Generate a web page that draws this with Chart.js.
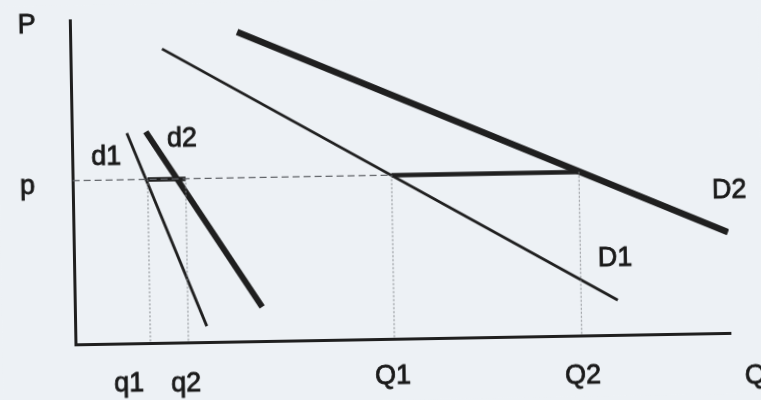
<!DOCTYPE html>
<html>
<head>
<meta charset="utf-8">
<script src="https://cdn.jsdelivr.net/npm/chart.js@4/dist/chart.umd.min.js"></script>
<style>
  html, body { margin: 0; padding: 0; background: #edf1f5; overflow: hidden; }
  #wrap { width: 761px; height: 400px; transform: rotate(-1deg); transform-origin: 380px 200px; filter: blur(0.4px); }
  canvas { background: #edf1f5; }
</style>
</head>
<body>
<div id="wrap"><canvas id="chart" width="761" height="400"></canvas></div>
<script>
// price level and quantities (axis units 0..10)
const priceP = 5.05;
const smallQ = [1.145, 1.725];   // q1, q2
const bigQ = [4.87, 7.73];       // Q1, Q2

// demand curves: [start, end] as {x: Q, y: P}
const d1 = [{x: 0.84, y: 6.49}, {x: 2.01, y: 0.49}];
const d2 = [{x: 1.13, y: 6.52}, {x: 2.86, y: 1.05}];
const D1 = [{x: 1.40, y: 9.07}, {x: 8.29, y: 1.07}];
const D2 = [{x: 2.55, y: 9.55}, {x: 9.99, y: 3.11}];

// text labels, placed in axis units
const labels = [
    {text: "P",  x: -0.66, y: 9.85},
    {text: "p",  x: -0.69, y: 4.88},
    {text: "d1", x: 0.52,  y: 5.77},
    {text: "d2", x: 1.68,  y: 6.28},
    {text: "D2", x: 10.02, y: 4.41},
    {text: "D1", x: 8.26,  y: 2.35},
    {text: "q1", x: 0.81,  y: -1.25},
    {text: "q2", x: 1.68,  y: -1.28},
    {text: "Q1", x: 4.84,  y: -1.17},
    {text: "Q2", x: 7.74,  y: -1.25},
    {text: "Q",  x: 10.37, y: -1.34}
];

const ink = "#1f1f1f";

function line(data, width, extra) {
    return {
        data: data,
        showLine: true,
        borderColor: ink,
        borderWidth: width,
        pointRadius: 0,
        borderCapStyle: "butt",
        ...extra
    };
}

function dropLine(q) {
    return line([{x: q, y: priceP}, {x: q, y: 0}], 1, {borderColor: "#85888c", borderDash: [2, 2]});
}

const datasets = [
    line([{x: 0, y: priceP}, {x: bigQ[0], y: priceP}], 1.4, {borderColor: "#606368", borderDash: [7, 4]}),
    dropLine(smallQ[0]),
    dropLine(smallQ[1]),
    dropLine(bigQ[0]),
    dropLine(bigQ[1]),
    line(d1, 2.8),
    line(d2, 6),
    line(D1, 2.8),
    line(D2, 6.5),
    line([{x: smallQ[0], y: priceP}, {x: smallQ[1], y: priceP}], 4.5),
    line([{x: bigQ[0], y: priceP}, {x: bigQ[1], y: priceP}], 4.5)
];

const textPlugin = {
    id: "textLabels",
    afterDatasetsDraw(chart) {
        const ctx = chart.ctx;
        const xs = chart.scales.x, ys = chart.scales.y;
        ctx.save();
        ctx.fillStyle = "#1a1a1a";
        ctx.strokeStyle = "#1a1a1a";
        ctx.lineWidth = 0.8;
        ctx.font = "27px 'Liberation Sans', Arial, sans-serif";
        ctx.textAlign = "center";
        ctx.textBaseline = "middle";
        labels.forEach(l => {
            const px = xs.getPixelForValue(l.x), py = ys.getPixelForValue(l.y);
            ctx.fillText(l.text, px, py);
            ctx.strokeText(l.text, px, py);
        });
        ctx.restore();
    }
};

new Chart(document.getElementById("chart"), {
    type: "scatter",
    data: {datasets: datasets},
    options: {
        responsive: false,
        animation: false,
        layout: {padding: {left: 73, right: 33, top: 15, bottom: 61}},
        plugins: {legend: {display: false}, tooltip: {enabled: false}},
        scales: {
            x: {
                type: "linear", min: 0, max: 10,
                grid: {display: false, drawTicks: false},
                ticks: {display: false},
                border: {display: true, color: ink, width: 3}
            },
            y: {
                type: "linear", min: 0, max: 10,
                grid: {display: false, drawTicks: false},
                ticks: {display: false},
                border: {display: true, color: ink, width: 3}
            }
        }
    },
    plugins: [textPlugin]
});
</script>
</body>
</html>
